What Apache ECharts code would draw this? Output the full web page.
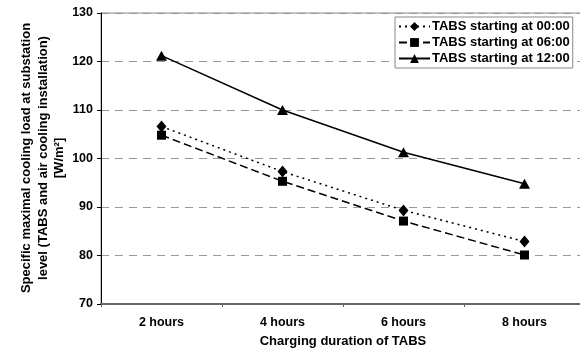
<!DOCTYPE html>
<html><head><meta charset="utf-8">
<script src="https://cdn.jsdelivr.net/npm/echarts@6/dist/echarts.min.js"></script>
<style>html,body{margin:0;padding:0;background:#fff}#c{width:580px;height:349px}</style>
</head><body><div id="c"></div>
<script>
const categories = ['2 hours', '4 hours', '6 hours', '8 hours'];
const s0000 = [106.6, 97.3, 89.3, 82.9];
const s0600 = [104.8, 95.3, 87.1, 80.1];
const s1200 = [121.2, 110.0, 101.3, 94.8];
const yTicks = [70, 80, 90, 100, 110, 120, 130];
const seriesNames = ['TABS starting at 00:00', 'TABS starting at 06:00', 'TABS starting at 12:00'];
const yAxisTitle = 'Specific maximal cooling load at substation\nlevel (TABS and air cooling installation)\n[W/m²]';

const font = 'Liberation Sans, Arial, sans-serif';
const chart = echarts.init(document.getElementById('c'), null, {renderer: 'canvas'});
chart.setOption({
  animation: false,
  backgroundColor: '#fff',
  grid: {left: 101, top: 13, right: -5, bottom: 45, show: true, borderColor: '#888', borderWidth: 1,
    containLabel: false, outerBoundsMode: 'none'},
  legend: {
    orient: 'vertical', left: 395, top: 17, itemGap: 3, itemWidth: 31, itemHeight: 11,
    backgroundColor: '#fff', borderColor: '#888', borderWidth: 1, padding: [3, 3, 3, 3],
    textStyle: {fontFamily: font, fontWeight: 'bold', fontSize: 13, color: '#000', padding: [0,0,0,-3]},
    data: seriesNames
  },
  graphic: [{
    type: 'text', x: 43, y: 158, rotation: Math.PI / 2,
    style: {text: yAxisTitle, fontFamily: font, fontWeight: 'bold', fontSize: 13, lineHeight: 16.5,
      fill: '#000', align: 'center', verticalAlign: 'middle'}
  }],
  xAxis: {
    type: 'category', data: categories, boundaryGap: true,
    axisLine: {lineStyle: {color: '#666', width: 2}},
    axisTick: {show: true, length: 3, lineStyle: {color: '#666'}},
    axisLabel: {fontFamily: font, fontWeight: 'bold', fontSize: 12.5, color: '#000', margin: 12},
    name: 'Charging duration of TABS', nameLocation: 'middle', nameGap: 31,
    nameTextStyle: {fontFamily: font, fontWeight: 'bold', fontSize: 13, color: '#000'}
  },
  yAxis: {
    type: 'value', min: 70, max: 130, interval: 10,
    axisLine: {show: true, lineStyle: {color: '#000', width: 1}},
    axisTick: {show: true, length: 4, lineStyle: {color: '#000'}},
    axisLabel: {fontFamily: font, fontWeight: 'bold', fontSize: 12.5, color: '#000', margin: 8,
      formatter: v => yTicks.includes(v) ? String(v) : ''},
    splitLine: {show: true, lineStyle: {color: '#999', type: [8, 6], width: 1}}
  },
  series: [
    {name: seriesNames[0], type: 'line', data: s0000, symbol: 'diamond', symbolSize: [10, 12],
      itemStyle: {color: '#000'}, lineStyle: {color: '#000', width: 1.5, type: [2, 4]}},
    {name: seriesNames[1], type: 'line', data: s0600, symbol: 'rect', symbolSize: 9,
      itemStyle: {color: '#000'}, lineStyle: {color: '#000', width: 1.5, type: [8, 4]}},
    {name: seriesNames[2], type: 'line', data: s1200, symbol: 'triangle', symbolSize: [11, 10],
      itemStyle: {color: '#000'}, lineStyle: {color: '#000', width: 1.5, type: 'solid'}}
  ]
});
</script></body></html>
